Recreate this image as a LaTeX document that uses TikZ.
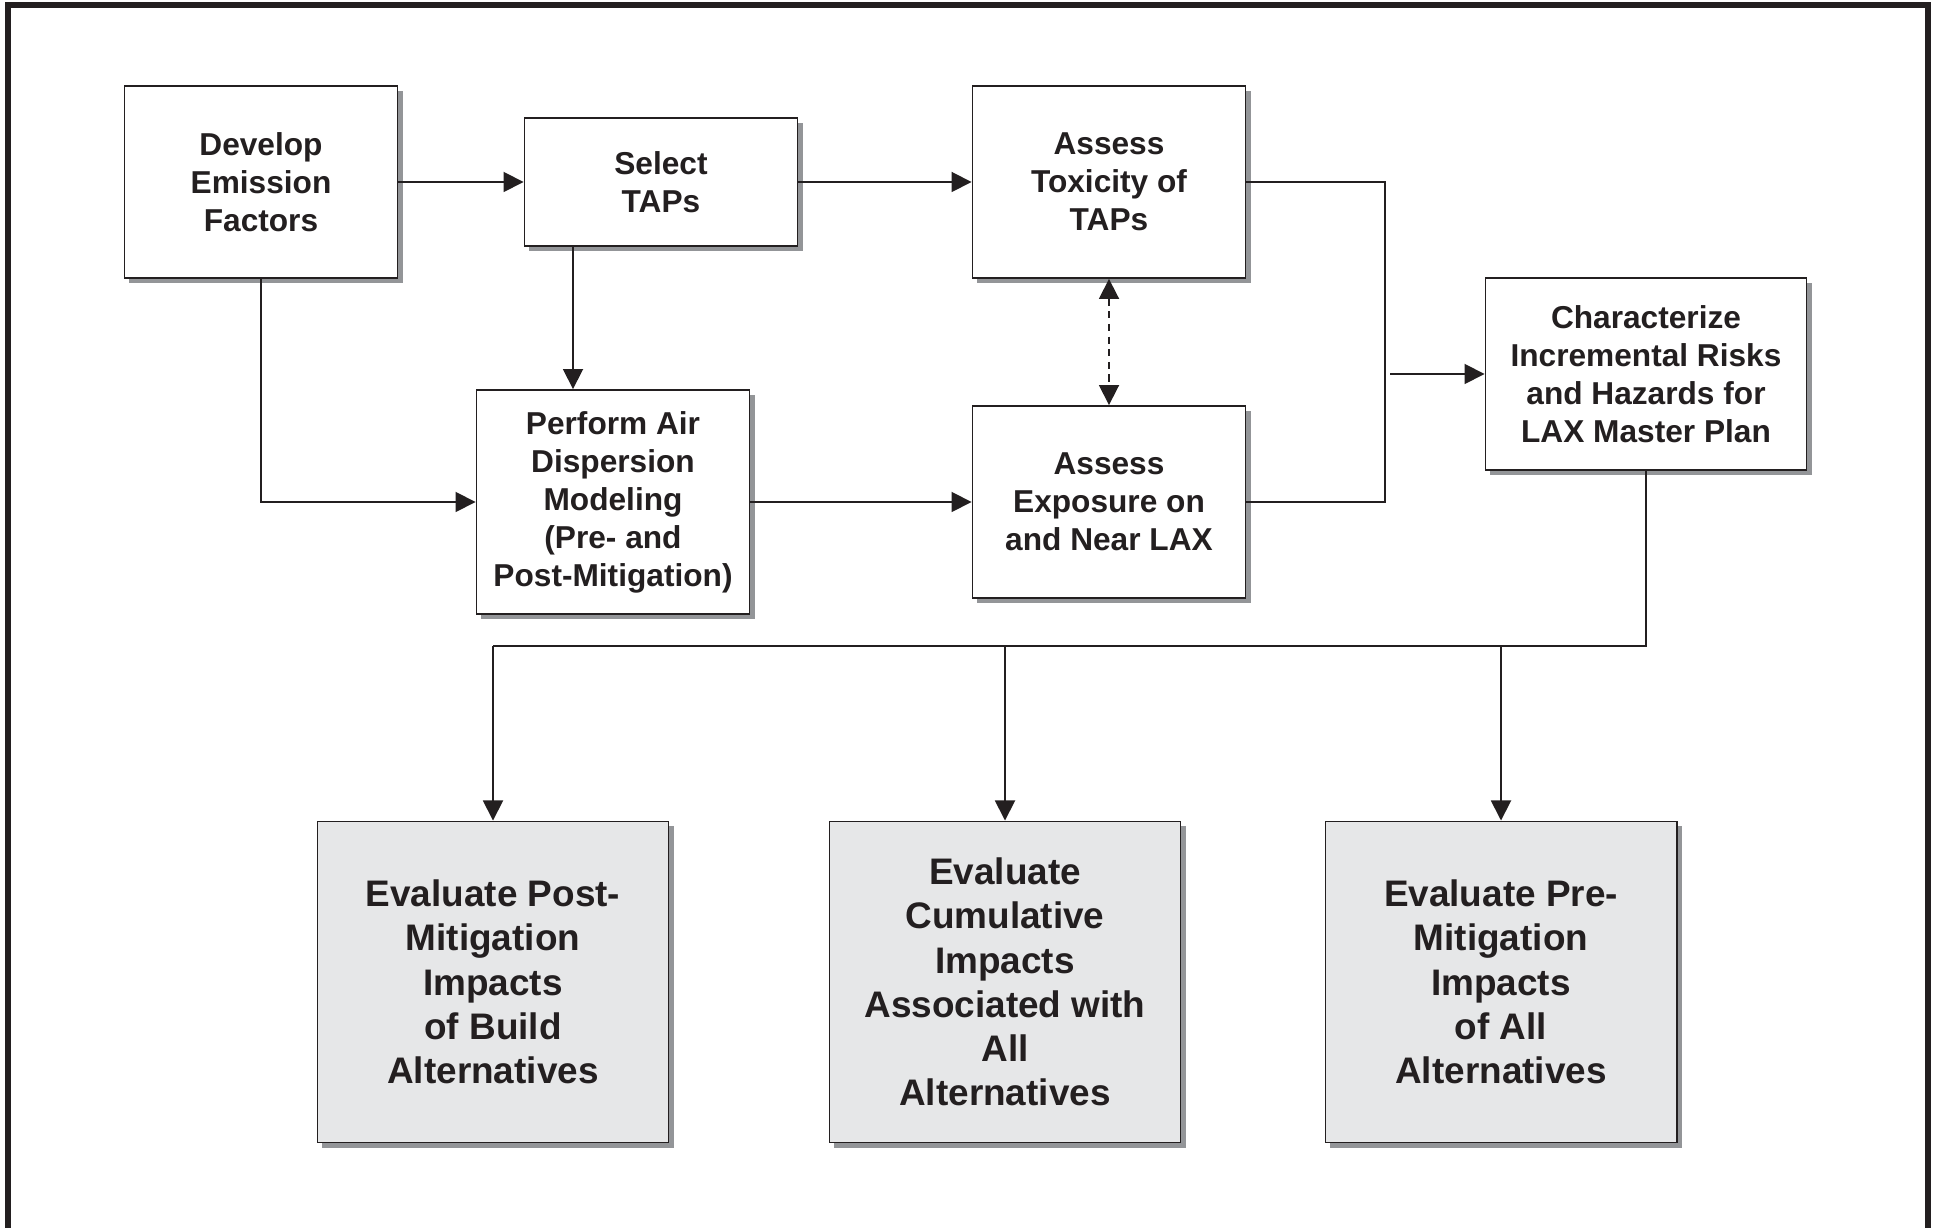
\documentclass[tikz,border=0pt]{standalone}
\usepackage{fontspec}
\setmainfont{Liberation Sans}
\usepackage{tikz}
\usetikzlibrary{calc, arrows.meta, positioning, shadows}
\definecolor{ink}{HTML}{231F20}
\definecolor{shade}{HTML}{939598}
\definecolor{panel}{HTML}{E6E7E8}
\tikzset{
  box/.style={draw=ink, line width=0.5pt, fill=white, text=ink, align=center, inner sep=0pt,
    font=\bfseries\fontsize{9}{10.8}\selectfont,
    drop shadow={shadow xshift=1.4pt, shadow yshift=-1.4pt, fill=shade, opacity=1}},
  evalbox/.style={box, fill=panel, minimum width=3.51cm, minimum height=3.21cm,
    font=\bfseries\fontsize{10.5}{12.6}\selectfont},
  wire/.style={draw=ink, line width=0.5pt},
  link/.style={wire, -{Triangle[length=5.7pt, width=5.7pt]}},
}

\begin{document}
\begin{tikzpicture}[x=0.01cm, y=-0.01cm]
                  \useasboundingbox (0,0) rectangle (1933,1228);
                  \draw[ink, line width=1.7pt] (8,5) rectangle (1928,1232);
                  \node[box, minimum width=2.73cm, minimum height=1.92cm] (EF) at (261,182) {Develop\\Emission\\Factors};
                  \node[box, minimum width=2.73cm, minimum height=1.28cm] (ST) at (661,182) {Select\\TAPs};
                  \node[box, minimum width=2.73cm, minimum height=1.92cm] (TX) at (1109,182) {Assess\\Toxicity of\\TAPs};
                  \node[box, minimum width=2.73cm, minimum height=2.24cm] (PA) at (613,502) {Perform Air\\Dispersion\\Modeling\\(Pre- and\\Post-Mitigation)};
                  \node[box, minimum width=2.73cm, minimum height=1.92cm] (EX) at (1109,502) {Assess\\Exposure on\\and Near LAX};
                  \node[box, minimum width=3.21cm, minimum height=1.92cm] (CH) at (1646,374) {Characterize\\Incremental Risks\\and Hazards for\\LAX Master Plan};
                  \node[evalbox] (PM) at (493,982) {Evaluate Post-\\Mitigation\\Impacts\\of Build\\Alternatives};
                  \node[evalbox] (CM) at (1005,982) {Evaluate\\Cumulative\\Impacts\\Associated with\\All\\Alternatives};
                  \node[evalbox] (RM) at (1501,982) {Evaluate Pre-\\Mitigation\\Impacts\\of All\\Alternatives};
                  \coordinate (S1) at (573,0);
                  \coordinate (J) at (1385,374);
                  \coordinate (J2) at (1390,374);
                  \coordinate (B) at (0,646);
                  \draw[link] (EF) -- (ST);
                  \draw[link] (ST) -- (TX);
                  \draw[link] (ST.south -| S1) -- (PA.north -| S1);
                  \draw[link] (EF.south) |- (PA.west);
                  \draw[link] (PA) -- (EX);
                  \draw[link, {Triangle[length=5.7pt, width=5.7pt]}-{Triangle[length=5.7pt, width=5.7pt]}, dash pattern=on 2pt off 1.6pt] (TX) -- (EX);
                  \draw[wire] (TX.east) -| (J) |- (EX.east);
                  \draw[link] (J2) -- (CH);
                  \draw[wire] (CH.south) |- (PM |- B);
                  \foreach \n in {PM, CM, RM}
                    \draw[link] (\n |- B) -- (\n.north);
               \end{tikzpicture}
\end{document}
